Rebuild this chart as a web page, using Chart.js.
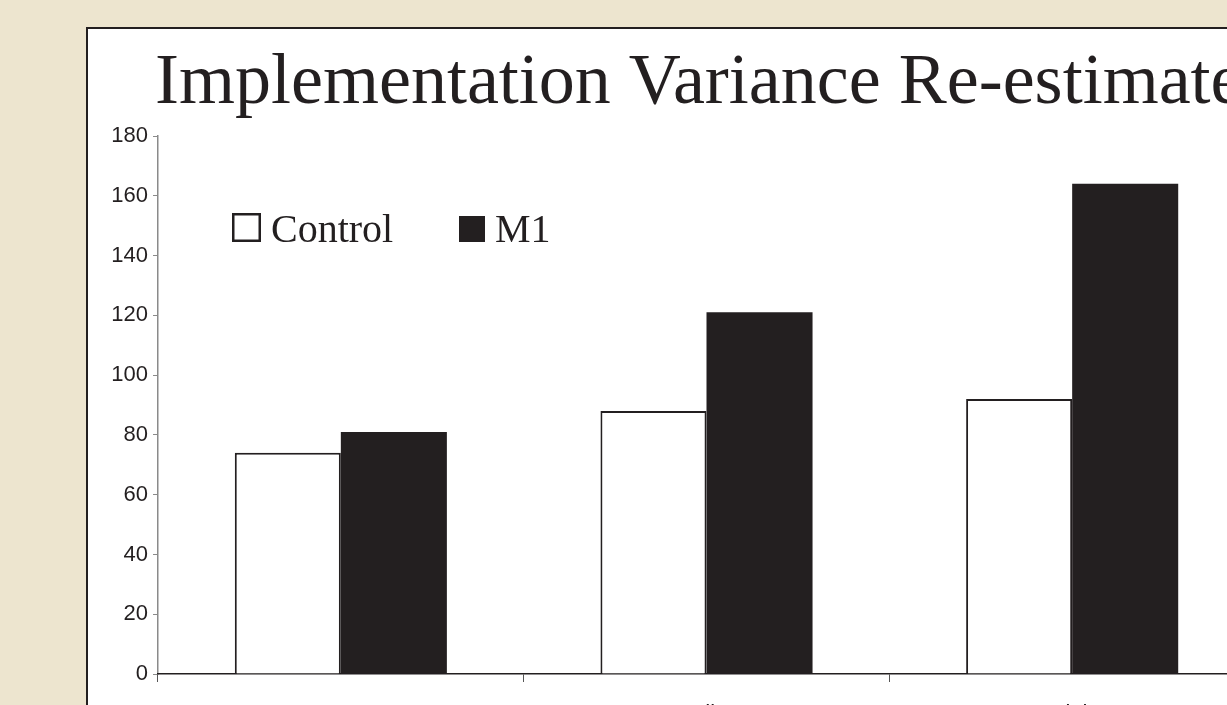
<!DOCTYPE html>
<html>
<head>
<meta charset="utf-8">
<script src="https://cdn.jsdelivr.net/npm/chart.js@4/dist/chart.umd.min.js"></script>
<style>
  html, body { margin: 0; padding: 0; width: 1227px; height: 705px; overflow: hidden; background: rgb(237,229,207); }
  #frame { position: absolute; left: 86px; top: 27px; border: 2px solid #231F20; background: #fff; width: 1230px; height: 760px; }
  #c { display: block; }
</style>
</head>
<body>
<div id="frame"><canvas id="c" width="1230" height="760"></canvas></div>
<script>
const titleText = "Implementation Variance Re-estimate";
const categories = ["Low", "Medium", "High"];
const seriesNames = ["Control", "M1"];
const controlValues = [74, 88, 92];
const m1Values = [81, 121, 164];
const yTicks = [0, 20, 40, 60, 80, 100, 120, 140, 160, 180];

const INK = "#231F20";

const overlayPlugin = {
  id: "overlay",
  afterDraw(chart) {
    const ctx = chart.ctx;
    ctx.save();
    // title
    ctx.fillStyle = INK;
    ctx.font = "72px 'Liberation Serif'";
    ctx.textBaseline = "alphabetic";
    ctx.textAlign = "left";
    ctx.fillText(titleText, 67, 74);
    // legend inside chart area
    const pos = [{bx: 144, by: 184, bs: 29, tx: 183}, {bx: 371, by: 187, bs: 26, tx: 407}];
    chart.data.datasets.forEach((ds, i) => {
      const p = pos[i];
      if (ds.backgroundColor === "#ffffff") {
        ctx.fillStyle = "#ffffff";
        ctx.fillRect(p.bx, p.by, p.bs, p.bs);
        ctx.strokeStyle = INK;
        ctx.lineWidth = 2.5;
        ctx.strokeRect(p.bx + 1.25, p.by + 1.25, p.bs - 2.5, p.bs - 2.5);
      } else {
        ctx.fillStyle = ds.backgroundColor;
        ctx.fillRect(p.bx, p.by, p.bs, p.bs);
      }
      ctx.fillStyle = INK;
      ctx.font = "40px 'Liberation Serif'";
      ctx.fillText(ds.label, p.tx, 213);
    });
    ctx.restore();
  }
};

new Chart(document.getElementById("c"), {
  type: "bar",
  data: {
    labels: categories,
    datasets: [
      { label: seriesNames[0], data: controlValues, backgroundColor: "#ffffff", borderColor: INK, borderWidth: 2, borderSkipped: "start" },
      { label: seriesNames[1], data: m1Values, backgroundColor: INK, borderWidth: 0 }
    ]
  },
  options: {
    responsive: false,
    animation: false,
    devicePixelRatio: 1,
    categoryPercentage: 0.58,
    barPercentage: 1.0,
    layout: { padding: { top: 107, right: 63, left: 0, bottom: 0 } },
    plugins: { legend: { display: false }, title: { display: false }, tooltip: { enabled: false } },
    scales: {
      y: {
        min: 0, max: 180,
        afterBuildTicks(scale) { scale.ticks = yTicks.map(v => ({ value: v })); },
        afterFit(scale) { scale.width = 70; },
        ticks: { color: INK, font: { family: "'Liberation Sans'", size: 22 }, padding: 5 },
        grid: { drawOnChartArea: false, drawTicks: true, tickLength: 5, color: "#8a8a8a" },
        border: { color: "#8a8a8a", width: 1.5 }
      },
      x: {
        afterFit(scale) { scale.height = 760 - 645; },
        ticks: { color: INK, font: { family: "'Liberation Sans'", size: 22 }, padding: 19 },
        grid: { drawOnChartArea: false, drawTicks: true, tickLength: 8, offset: true, color: "#555" },
        border: { color: INK, width: 1.5 }
      }
    }
  },
  plugins: [overlayPlugin]
});
</script>
</body>
</html>
